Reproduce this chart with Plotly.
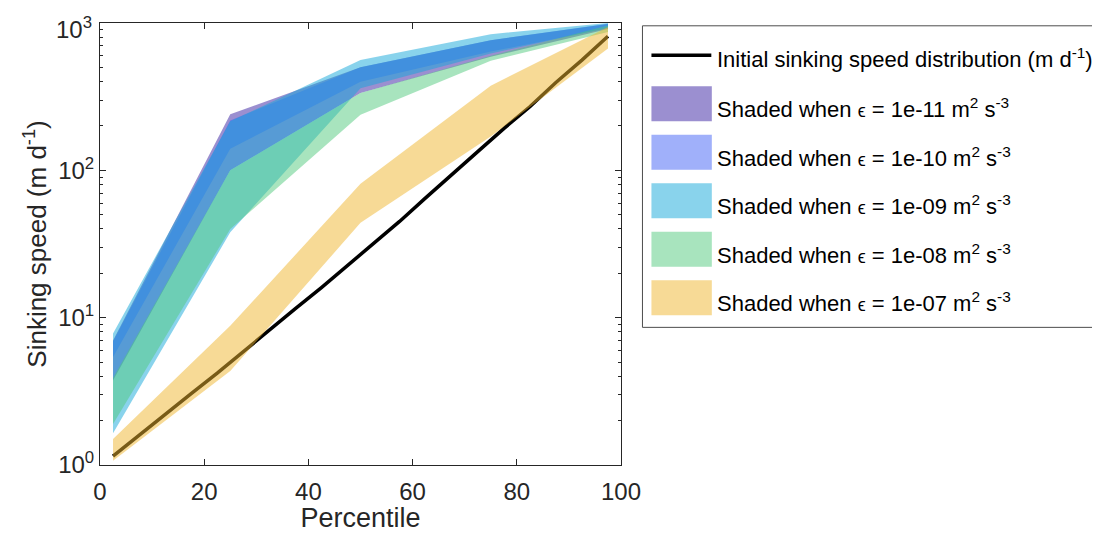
import plotly.graph_objects as go

# ---------------- data ----------------
band_percentiles = [2.5, 25, 50, 75, 97.5]

eps_labels = ["1e-11", "1e-10", "1e-09", "1e-08", "1e-07"]

lo_1e11 = [3.75, 100, 335, 590, 910]
hi_1e11 = [7.0, 240, 500, 765, 985]
lo_1e10 = [5.4, 140, 400, 640, 920]
hi_1e10 = [6.9, 218, 500, 765, 990]
lo_1e09 = [1.64, 38, 360, 620, 930]
hi_1e09 = [7.8, 215, 560, 840, 1000]
lo_1e08 = [1.9, 40, 238, 555, 870]
hi_1e08 = [3.9, 100, 335, 600, 960]
lo_1e07 = [1.07, 4.35, 44, 170, 670]
hi_1e07 = [1.5, 8.8, 81, 375, 940]

initial_percentiles = [2.5, 7.5, 12.5, 17.5, 22.5, 27.5, 32.5, 37.5, 42.5, 47.5,
                       52.5, 57.5, 62.5, 67.5, 72.5, 77.5, 82.5, 87.5, 92.5, 97.5]
initial_speed = [1.15, 1.6, 2.2, 3.05, 4.2, 5.9, 8.2, 11.5, 16, 22.5,
                 31.5, 45, 65, 94, 134, 192, 270, 395, 560, 812]

band_colors = ["rgba(55,31,161,0.5)", "rgba(65,97,245,0.5)", "rgba(19,167,217,0.5)",
               "rgba(81,201,125,0.5)", "rgba(239,181,45,0.5)"]

x_ticks = [0, 20, 40, 60, 80, 100]
y_ticks = [1, 10, 100, 1000]
y_ticktext = ["10<sup>0</sup>", "10<sup>1</sup>", "10<sup>2</sup>", "10<sup>3</sup>"]

# ---------------- figure ----------------
OFF = 8  # page body margin of the browser
W, H = 1100 - OFF, 533 - OFF
# plot area in screen pixels
SL, SR, ST, SB = 99.5, 621.5, 22.7, 464.6
L, R, T, B = SL - OFF, SR - OFF, ST - OFF, SB - OFF

fig = go.Figure()

fig.add_trace(go.Scatter(x=initial_percentiles, y=initial_speed, mode="lines",
                         line=dict(color="black", width=3.5), showlegend=False,
                         hoverinfo="skip"))

bands = [(lo_1e11, hi_1e11), (lo_1e10, hi_1e10), (lo_1e09, hi_1e09),
         (lo_1e08, hi_1e08), (lo_1e07, hi_1e07)]
for (lo, hi), col, lab in zip(bands, band_colors, eps_labels):
    fig.add_trace(go.Scatter(
        x=band_percentiles + band_percentiles[::-1],
        y=hi + lo[::-1],
        fill="toself", fillcolor=col, mode="lines", line=dict(width=0, color=col),
        name=lab, showlegend=False, hoverinfo="skip"))

axcol = "#262626"
font_family = "Liberation Sans, Arial, Helvetica, sans-serif"

minor_vals = [m * 10 ** k for k in range(3) for m in range(2, 10)]

# the top tick label sits slightly lower (inside the page), as in the reference
shown_ticktext = y_ticktext[:-1] + [""]

fig.update_layout(
    width=W, height=H,
    margin=dict(l=L, r=W - R, t=T, b=H - B, pad=0, autoexpand=False),
    paper_bgcolor="white", plot_bgcolor="white",
    font=dict(family=font_family, color=axcol),
    xaxis=dict(range=[0, 100], tickvals=x_ticks, ticks="inside", ticklen=6,
               tickcolor=axcol, showline=True, linecolor=axcol, linewidth=1,
               mirror="ticks", showgrid=False, zeroline=False, automargin=False,
               ticklabelstandoff=5, ticklabeloverflow="allow",
               tickfont=dict(size=24, color=axcol),
               title=dict(text="Percentile", font=dict(size=27, color=axcol), standoff=8)),
    yaxis=dict(type="log", range=[0, 3], tickvals=y_ticks, ticktext=shown_ticktext,
               ticks="inside", ticklen=6, tickcolor=axcol, showline=True,
               linecolor=axcol, linewidth=1, mirror="ticks", showgrid=False,
               zeroline=False, ticklabeloverflow="allow", automargin=False,
               tickfont=dict(size=24, color=axcol),
               minor=dict(tickvals=minor_vals, ticks="inside", ticklen=3,
                          tickcolor=axcol, showgrid=False),
               title=dict(text="Sinking speed (m d<sup>-1</sup>)",
                          font=dict(size=26, color=axcol), standoff=4)),
)

fig.add_annotation(xref="paper", yref="y", x=0, y=3, xanchor="right",
                   yanchor="middle", xshift=-6, yshift=-5, showarrow=False,
                   text=y_ticktext[-1], font=dict(size=24, color=axcol, family=font_family))

# ---------------- custom legend (MATLAB-style) ----------------
def px(xs):
    """screen x pixel -> paper coordinate"""
    return (xs - SL) / (SR - SL)

def py(ys):
    """screen y pixel -> paper coordinate"""
    return (SB - ys) / (SB - ST)

fig.add_shape(type="rect", xref="paper", yref="paper",
              x0=px(643), x1=px(1106), y0=py(327), y1=py(25.5),
              line=dict(color="#4d4d4d", width=1), fillcolor="white", layer="below")

fig.add_shape(type="line", xref="paper", yref="paper",
              x0=px(652), x1=px(712), y0=py(55), y1=py(55),
              line=dict(color="black", width=3.5))
fig.add_annotation(xref="paper", yref="paper", x=px(716), y=py(58),
                   xanchor="left", yanchor="middle", showarrow=False,
                   text="Initial sinking speed distribution (m d<sup>-1</sup>)",
                   font=dict(size=22, color="black", family=font_family))

row_tops = [86, 134.5, 183, 231.5, 280]
for top, col, lab in zip(row_tops, band_colors, eps_labels):
    fig.add_shape(type="rect", xref="paper", yref="paper",
                  x0=px(652), x1=px(712.5), y0=py(top + 35), y1=py(top),
                  line=dict(width=0), fillcolor=col)
    fig.add_annotation(xref="paper", yref="paper", x=px(716), y=py(top + 22),
                       xanchor="left", yanchor="middle", showarrow=False,
                       text="Shaded when <span style='font-size:18px'>\u03f5</span> = "
                            + lab + " m<sup>2</sup> s<sup>-3</sup>",
                       font=dict(size=22, color="black", family=font_family))

fig.write_html("out.html")
